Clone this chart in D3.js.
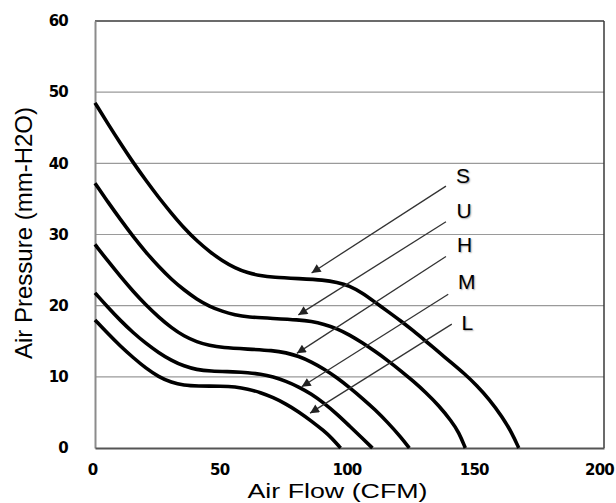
<!DOCTYPE html>
<html>
<head>
<meta charset="utf-8">
<script src="https://cdn.jsdelivr.net/npm/d3@7/dist/d3.min.js"></script>
<style>
  html, body { margin: 0; padding: 0; background: #fff; }
  svg { display: block; }
</style>
</head>
<body>
<svg id="chart" width="616" height="503"></svg>
<script>
// ---- Data ----
const xTicks = [0, 50, 100, 150, 200];
const yTicks = [0, 10, 20, 30, 40, 50, 60];

const curveS = [[0,48.5],[5,45.6],[10,42.8],[15,40.1],[20,37.6],[25,35.2],[30,33.0],[35,30.9],[40,29.1],[45,27.6],[50,26.3],[55,25.3],[60,24.6],[65,24.2],[70,24.0],[80,23.8],[90,23.6],[95,23.3],[100,22.8],[105,21.8],[110,20.5],[115,19.2],[120,17.9],[125,16.5],[130,15.0],[135,13.5],[140,12.0],[145,10.5],[150,8.8],[155,6.8],[160,4.4],[164,2.0],[166.5,0]];
const curveU = [[0,37.2],[5,34.6],[10,32.1],[15,29.7],[20,27.5],[25,25.5],[30,23.7],[35,22.2],[40,20.9],[45,19.9],[50,19.2],[55,18.7],[60,18.4],[70,18.2],[80,18.0],[85,17.8],[90,17.4],[95,16.8],[100,15.9],[105,14.8],[110,13.6],[115,12.3],[120,10.9],[125,9.4],[130,7.8],[135,6.0],[140,3.8],[143,2.2],[145.5,0]];
const curveH = [[0,28.6],[5,26.3],[10,24.1],[15,22.0],[20,20.1],[25,18.4],[30,16.9],[35,15.7],[40,14.9],[45,14.4],[50,14.1],[60,13.9],[70,13.7],[75,13.4],[80,12.9],[85,12.1],[90,11.1],[95,9.9],[100,8.5],[105,7.0],[110,5.4],[115,3.6],[120,1.6],[123.5,0]];
const curveM = [[0,21.8],[5,19.8],[10,17.9],[15,16.2],[20,14.7],[25,13.4],[30,12.3],[35,11.5],[40,11.0],[45,10.8],[55,10.7],[60,10.6],[65,10.4],[70,10.0],[75,9.4],[80,8.6],[85,7.6],[90,6.3],[95,4.8],[100,3.1],[105,1.4],[109,0]];
const curveL = [[0,18.0],[5,16.1],[10,14.3],[15,12.7],[20,11.2],[25,10.0],[30,9.2],[35,8.8],[40,8.7],[50,8.7],[55,8.6],[60,8.3],[65,7.8],[70,7.1],[75,6.2],[80,5.1],[85,3.8],[90,2.4],[93,1.4],[96.5,0]];

const seriesNames = ["S", "U", "H", "M", "L"];
const seriesData = [curveS, curveU, curveH, curveM, curveL];

// annotation arrows (data coords): start, tip, label position
const arrowStart = [[137.9,36.8],[137.9,31.8],[137.9,26.9],[138.8,21.6],[140.2,17.4]];
const arrowTip   = [[85.1,24.6],[79.9,18.7],[79.3,13.3],[81.2,8.6],[84.5,4.9]];
const labelPos   = [[141.8,37.2],[142.0,32.3],[142.2,27.5],[142.6,22.3],[144.0,16.6]];

const xTitle = "Air Flow (CFM)";
const yTitle = "Air Pressure (mm-H2O)";

// ---- Chart ----
const svg = d3.select("#chart");
const L = 95, R = 604, T = 21, B = 448;
const x = d3.scaleLinear().domain([0, 200]).range([L, R]);
const y = d3.scaleLinear().domain([0, 60]).range([B, T]);

svg.append("rect").attr("width", 616).attr("height", 503).attr("fill", "#fff");

// gridlines
svg.append("g").selectAll("line").data(yTicks.filter(d => d > 0 && d < 60)).join("line")
  .attr("x1", L).attr("x2", R)
  .attr("y1", d => y(d)).attr("y2", d => y(d))
  .attr("stroke", "#9a9a9a").attr("stroke-width", 1.2);

// frame
svg.append("line").attr("x1", L).attr("x2", R).attr("y1", y(60)).attr("y2", y(60))
  .attr("stroke", "#3a3a3a").attr("stroke-width", 1.5);
svg.append("line").attr("x1", R).attr("x2", R).attr("y1", y(60)).attr("y2", y(0))
  .attr("stroke", "#3a3a3a").attr("stroke-width", 1.5);

// y axis
const yAxis = svg.append("g").attr("transform", `translate(${L},0)`)
  .call(d3.axisLeft(y).tickValues(yTicks).tickSize(0).tickPadding(27));
yAxis.select(".domain").attr("stroke", "#8c8c8c").attr("stroke-width", 2);
yAxis.selectAll("text")
  .attr("font-family", "DejaVu Sans, Verdana, sans-serif")
  .attr("font-weight", "bold").attr("font-size", 15)
  .attr("letter-spacing", -0.8)
  .attr("fill", "#000");

// x axis
const xAxis = svg.append("g").attr("transform", `translate(0,${B})`)
  .call(d3.axisBottom(x).tickValues(xTicks).tickSize(0).tickPadding(16));
xAxis.select(".domain").attr("stroke", "#555").attr("stroke-width", 2);
xAxis.selectAll("text")
  .attr("font-family", "DejaVu Sans, Verdana, sans-serif")
  .attr("font-weight", "bold").attr("font-size", 15)
  .attr("letter-spacing", -0.8)
  .attr("fill", "#000")
  .attr("dx", -3);
xAxis.selectAll(".tick").filter(d => d === 200).select("text").attr("dx", -5);

// curves
const line = d3.line().x(d => x(d[0])).y(d => y(d[1])).curve(d3.curveBasis);
svg.append("g").selectAll("path").data(seriesData).join("path")
  .attr("d", line)
  .attr("fill", "none").attr("stroke", "#000")
  .attr("stroke-width", 3.6).attr("stroke-linecap", "butt").attr("stroke-linejoin", "round");

// arrowhead marker
svg.append("defs").append("marker")
  .attr("id", "ah").attr("viewBox", "0 0 10 10")
  .attr("refX", 10).attr("refY", 5)
  .attr("markerWidth", 11).attr("markerHeight", 9)
  .attr("markerUnits", "userSpaceOnUse")
  .attr("orient", "auto")
  .append("path").attr("d", "M0,0 L10,5 L0,10 Z").attr("fill", "#222");

svg.append("g").selectAll("line").data(seriesNames).join("line")
  .attr("x1", (d, i) => x(arrowStart[i][0])).attr("y1", (d, i) => y(arrowStart[i][1]))
  .attr("x2", (d, i) => x(arrowTip[i][0])).attr("y2", (d, i) => y(arrowTip[i][1]))
  .attr("stroke", "#333").attr("stroke-width", 1.3)
  .attr("marker-end", "url(#ah)");

svg.append("g").selectAll("text").data(seriesNames).join("text")
  .attr("x", (d, i) => x(labelPos[i][0])).attr("y", (d, i) => y(labelPos[i][1]))
  .attr("font-family", "Liberation Sans, Arial, sans-serif")
  .attr("font-size", 21).attr("fill", "#000")
  .style("text-shadow", "1px 1px 1.5px rgba(0,0,0,0.35)")
  .text(d => d);

// axis titles
svg.append("text")
  .attr("x", (L + R) / 2 - 12).attr("y", 498)
  .attr("text-anchor", "middle")
  .attr("font-family", "Liberation Sans, Arial, sans-serif")
  .attr("font-size", 21).attr("fill", "#000")
  .attr("textLength", 180).attr("lengthAdjust", "spacingAndGlyphs")
  .text(xTitle);

svg.append("text")
  .attr("transform", `translate(32,${233}) rotate(-90)`)
  .attr("text-anchor", "middle")
  .attr("font-family", "Liberation Sans, Arial, sans-serif")
  .attr("font-size", 24).attr("fill", "#000")
  .text(yTitle);
</script>
</body>
</html>
